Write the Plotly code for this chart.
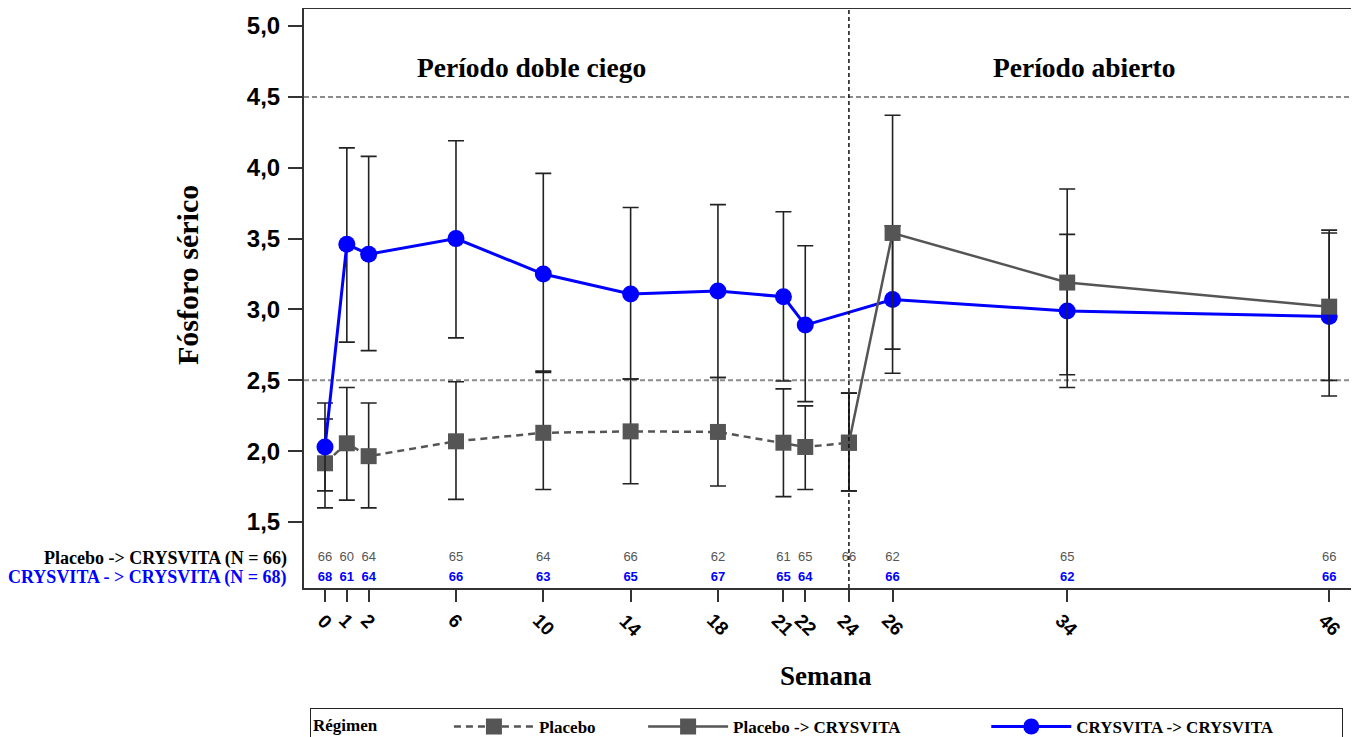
import plotly.graph_objects as go

# ---------------- data ----------------
weeks_db = [0, 1, 2, 6, 10, 14, 18, 21, 22, 24]
placebo_mean = [1.915, 2.056, 1.965, 2.07, 2.13, 2.14, 2.136, 2.06, 2.03, 2.06]
placebo_hi = [2.227, 2.45, 2.34, 2.49, 2.556, 2.51, 2.52, 2.44, 2.32, 2.41]
placebo_lo = [1.60, 1.655, 1.60, 1.66, 1.73, 1.77, 1.755, 1.68, 1.73, 1.72]

weeks_pc = [24, 26, 34, 46]
pc_mean = [2.06, 3.54, 3.19, 3.02]
pc_hi = [2.41, 4.37, 3.85, 3.56]
pc_lo = [1.72, 2.72, 2.54, 2.50]

weeks_cc = [0, 1, 2, 6, 10, 14, 18, 21, 22, 26, 34, 46]
cc_mean = [2.03, 3.46, 3.39, 3.50, 3.25, 3.11, 3.13, 3.09, 2.89, 3.07, 2.99, 2.95]
cc_hi = [2.34, 4.14, 4.08, 4.19, 3.96, 3.72, 3.74, 3.69, 3.45, 3.59, 3.53, 3.54]
cc_lo = [1.72, 2.77, 2.71, 2.80, 2.565, 2.51, 2.52, 2.495, 2.35, 2.55, 2.45, 2.39]

count_weeks_p = [0, 1, 2, 6, 10, 14, 18, 21, 22, 24, 26, 34, 46]
counts_p = [66, 60, 64, 65, 64, 66, 62, 61, 65, 66, 62, 65, 66]
count_weeks_c = [0, 1, 2, 6, 10, 14, 18, 21, 22, 26, 34, 46]
counts_c = [68, 61, 64, 66, 63, 65, 67, 65, 64, 66, 62, 66]

tick_weeks = [0, 1, 2, 6, 10, 14, 18, 21, 22, 24, 26, 34, 46]
tick_labels = [str(w) for w in tick_weeks]
y_ticks = [1.5, 2.0, 2.5, 3.0, 3.5, 4.0, 4.5, 5.0]
ref_levels = [2.5, 4.5]
split_week = 24

count_row_p = 1.246
count_row_c = 1.106

GRAY = "#555555"
BLUE = "#0000ff"
SERIF = "Liberation Serif"
SANS = "Liberation Sans"
NB = "\u00a0"


def err(mean, hi, lo):
    return dict(type="data", symmetric=False,
                array=[h - m for h, m in zip(hi, mean)],
                arrayminus=[m - l for m, l in zip(mean, lo)],
                color="#222222", thickness=1.6, width=8)


fig = go.Figure()

fig.add_trace(go.Scatter(
    x=weeks_db, y=placebo_mean, name="Placebo" + NB * 10,
    mode="lines+markers", legendrank=1,
    line=dict(color=GRAY, width=2.5, dash="7px,5px"),
    marker=dict(symbol="square", size=16, color=GRAY),
    error_y=err(placebo_mean, placebo_hi, placebo_lo)))

fig.add_trace(go.Scatter(
    x=weeks_cc, y=cc_mean, name="CRYSVITA -> CRYSVITA" + NB * 15,
    mode="lines+markers", legendrank=3,
    line=dict(color=BLUE, width=3),
    marker=dict(symbol="circle", size=17, color=BLUE),
    error_y=err(cc_mean, cc_hi, cc_lo)))

fig.add_trace(go.Scatter(
    x=weeks_pc, y=pc_mean, name="Placebo -> CRYSVITA" + NB * 19,
    mode="lines+markers", legendrank=2,
    line=dict(color=GRAY, width=2.5),
    marker=dict(symbol="square", size=16, color=GRAY),
    error_y=err(pc_mean, pc_hi, pc_lo)))

# count rows
fig.add_trace(go.Scatter(
    x=count_weeks_p, y=[count_row_p] * len(count_weeks_p),
    text=[str(c) for c in counts_p], mode="text", showlegend=False,
    hoverinfo="skip", textfont=dict(family=SANS, size=13, color=GRAY)))
fig.add_trace(go.Scatter(
    x=count_weeks_c, y=[count_row_c] * len(count_weeks_c),
    text=[str(c) for c in counts_c], mode="text", showlegend=False,
    hoverinfo="skip", textfont=dict(family=SANS, size=13, color=BLUE, weight="bold")))

# reference lines
for lv in ref_levels:
    fig.add_shape(type="line", xref="paper", x0=0, x1=1, yref="y", y0=lv, y1=lv,
                  line=dict(color="#8c8c8c", width=2, dash="5px,3px"), layer="below")
fig.add_shape(type="line", xref="x", x0=split_week, x1=split_week, yref="paper", y0=0, y1=1,
              line=dict(color="#111111", width=1.5, dash="4px,3px"), layer="above")

# rotated x tick labels, centred under their ticks
for w, lab in zip(tick_weeks, tick_labels):
    fig.add_annotation(x=w, y=0, xref="x", yref="paper", text=lab, textangle=45,
                       xanchor="center", yanchor="top", yshift=-19, showarrow=False,
                       font=dict(family=SANS, size=19, color="black", weight="bold"))

# other annotations
fig.add_annotation(x=9.45, y=4.71, xref="x", yref="y", text="Período doble ciego",
                   showarrow=False, font=dict(family=SERIF, size=27.5, color="black", weight="bold"))
fig.add_annotation(x=34.8, y=4.71, xref="x", yref="y", text="Período abierto",
                   showarrow=False, font=dict(family=SERIF, size=27.5, color="black", weight="bold"))
fig.add_annotation(x=-0.0143, y=count_row_p, xref="paper", yref="y", xanchor="right",
                   text="Placebo -> CRYSVITA (N = 66)", showarrow=False,
                   font=dict(family=SERIF, size=18, color="black", weight="bold"))
fig.add_annotation(x=-0.0143, y=count_row_c, xref="paper", yref="y", xanchor="right",
                   text="CRYSVITA - > CRYSVITA (N = 68)", showarrow=False,
                   font=dict(family=SERIF, size=18, color=BLUE, weight="bold"))
fig.add_annotation(x=-0.1108, y=0.5406, xref="paper", yref="paper", textangle=-90,
                   xanchor="center", yanchor="middle",
                   text="Fósforo sérico", showarrow=False,
                   font=dict(family=SERIF, size=30, color="black", weight="bold"))
fig.add_annotation(x=0.4986, y=-0.152, xref="paper", yref="paper",
                   xanchor="center", yanchor="middle",
                   text="Semana", showarrow=False,
                   font=dict(family=SERIF, size=27, color="black", weight="bold"))

fig.update_layout(
    width=1351, height=729,
    margin=dict(l=296, r=8, t=1, b=149, autoexpand=False),
    paper_bgcolor="white", plot_bgcolor="white",
    separators=",.",
    showlegend=True,
    legend=dict(orientation="h", x=0.0057, y=-0.2072, xanchor="left", yanchor="top",
                bordercolor="#222222", borderwidth=1, bgcolor="white",
                itemwidth=80,
                font=dict(family=SERIF, size=17, color="black", weight="bold"),
                title=dict(text="Régimen" + NB * 15, side="left",
                           font=dict(family=SERIF, size=17, color="black", weight="bold"))),
    xaxis=dict(range=[-0.962, 47.0], tickmode="array", tickvals=tick_weeks,
               showticklabels=False,
               ticks="outside", ticklen=12, tickwidth=2, tickcolor="#333333",
               showline=True, linecolor="#333333", linewidth=2, mirror=True,
               showgrid=False, zeroline=False),
    yaxis=dict(range=[1.035, 5.12], tickmode="array", tickvals=y_ticks, tickformat=".1f",
               ticks="outside", ticklen=14, tickwidth=2, tickcolor="#333333",
               ticklabelstandoff=3,
               showline=True, linecolor="#333333", linewidth=2, mirror=True,
               showgrid=False, zeroline=False,
               tickfont=dict(family=SANS, size=24, color="black", weight="bold")),
)

fig.write_html("out.html")
